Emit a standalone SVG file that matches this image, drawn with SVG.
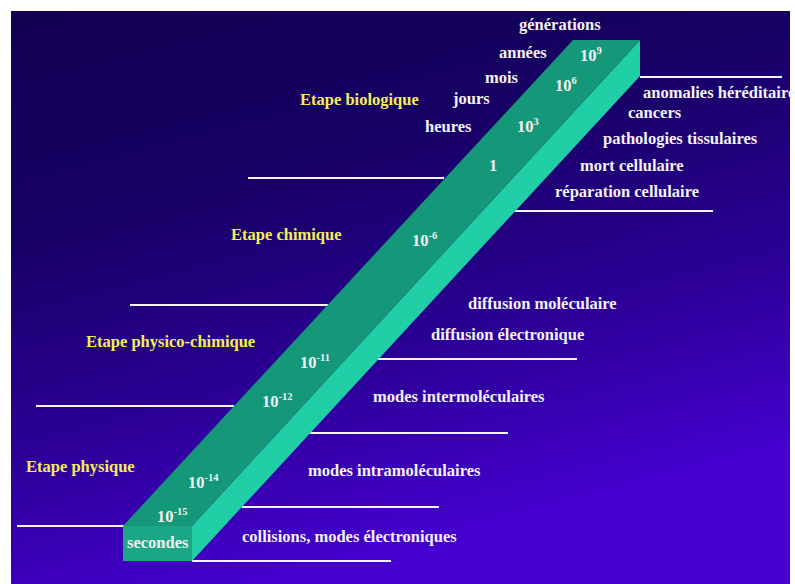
<svg xmlns="http://www.w3.org/2000/svg" width="795" height="584" viewBox="0 0 795 584">
  <defs>
    <linearGradient id="bg" x1="0" y1="0" x2="0.35" y2="1">
      <stop offset="0" stop-color="#130052"/>
      <stop offset="0.35" stop-color="#170064"/>
      <stop offset="0.7" stop-color="#2c0098"/>
      <stop offset="1" stop-color="#4600d0"/>
    </linearGradient>
    <style>
      text { font-family: "Liberation Serif", "Times New Roman", serif; font-weight: bold; font-size: 16.5px; }
      .w { fill: #f2f2f2; }
      .y { fill: #f2ee5a; }
      .sup { font-size: 10.5px; }
      .ln { stroke: #f4f4f4; stroke-width: 2; fill: none; }
    </style>
  </defs>
  <rect x="0" y="0" width="795" height="584" fill="#ffffff"/>
  <rect id="background" x="11" y="11" width="779" height="573" fill="url(#bg)"/>

  <g id="connectors">
    <line class="ln" x1="640" y1="77" x2="782" y2="77"/>
    <line class="ln" x1="248" y1="178" x2="444" y2="178"/>
    <line class="ln" x1="515" y1="211" x2="713" y2="211"/>
    <line class="ln" x1="130" y1="305" x2="328" y2="305"/>
    <line class="ln" x1="377" y1="359" x2="577" y2="359"/>
    <line class="ln" x1="36" y1="406" x2="234" y2="406"/>
    <line class="ln" x1="310" y1="433" x2="508" y2="433"/>
    <line class="ln" x1="242" y1="507" x2="439" y2="507"/>
    <line class="ln" x1="17" y1="526" x2="124" y2="526"/>
    <line class="ln" x1="192" y1="561" x2="391" y2="561"/>
  </g>

  <g id="bar">
    <polygon points="192,526 640,40 640,76 192,561" fill="#20cfa6"/>
    <polygon points="123,526 192,526 640,40 573,40" fill="#15977a"/>
    <rect x="123" y="526" width="69" height="35" fill="#1ba686"/>
  </g>

  <g id="scale">
    <text class="w" x="580" y="61">10<tspan class="sup" dy="-7">9</tspan></text>
    <text class="w" x="555" y="91">10<tspan class="sup" dy="-7">6</tspan></text>
    <text class="w" x="517" y="132">10<tspan class="sup" dy="-7">3</tspan></text>
    <text class="w" x="489" y="171">1</text>
    <text class="w" x="412" y="246">10<tspan class="sup" dy="-7">-6</tspan></text>
    <text class="w" x="300" y="368">10<tspan class="sup" dy="-7">-11</tspan></text>
    <text class="w" x="262" y="407">10<tspan class="sup" dy="-7">-12</tspan></text>
    <text class="w" x="188" y="488">10<tspan class="sup" dy="-7">-14</tspan></text>
    <text class="w" x="157" y="522">10<tspan class="sup" dy="-7">-15</tspan></text>
    <text class="w" x="127" y="548">secondes</text>
  </g>

  <g id="time-units">
    <text class="w" x="519" y="30">générations</text>
    <text class="w" x="499" y="58">années</text>
    <text class="w" x="485" y="83">mois</text>
    <text class="w" x="453" y="104">jours</text>
    <text class="w" x="425" y="132">heures</text>
  </g>

  <g id="stages">
    <text class="y" x="300" y="105">Etape biologique</text>
    <text class="y" x="231" y="240">Etape chimique</text>
    <text class="y" x="86" y="347">Etape physico-chimique</text>
    <text class="y" x="26" y="472">Etape physique</text>
  </g>

  <g id="effects">
    <text class="w" x="643" y="98">anomalies héréditaire</text>
    <text class="w" x="628" y="118">cancers</text>
    <text class="w" x="603" y="144">pathologies tissulaires</text>
    <text class="w" x="580" y="171">mort cellulaire</text>
    <text class="w" x="555" y="197">réparation cellulaire</text>
    <text class="w" x="468" y="309">diffusion moléculaire</text>
    <text class="w" x="431" y="340">diffusion électronique</text>
    <text class="w" x="373" y="402">modes intermoléculaires</text>
    <text class="w" x="308" y="476">modes intramoléculaires</text>
    <text class="w" x="242" y="542">collisions, modes électroniques</text>
  </g>
</svg>
